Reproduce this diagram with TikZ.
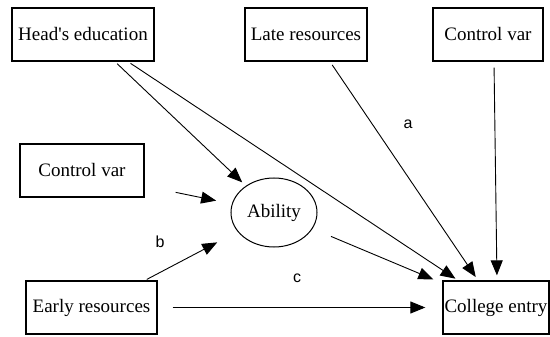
\documentclass[tikz,border=0pt]{standalone}
\usepackage{fontspec}
\setmainfont{Liberation Serif}
\newfontfamily\coeffont{Liberation Sans}
\usetikzlibrary{arrows.meta,shapes.geometric,calc}

\begin{document}
\begin{tikzpicture}[
  x=1pt, y=-1pt,
  var/.style={draw,line width=1.3pt,minimum height=53pt,inner sep=0pt,font=\fontsize{19}{22}\selectfont},
  latent/.style={draw,ellipse,line width=1pt,minimum width=86pt,minimum height=69pt,inner sep=0pt,font=\fontsize{19}{22}\selectfont},
  effect/.style={line width=0.9pt,-{Triangle[length=15pt,width=12pt]}},
  coef/.style={font=\coeffont\fontsize{16}{18}\selectfont,inner sep=0pt}
]
  \useasboundingbox (0,0) rectangle (550,337);

  \node[var,minimum width=142pt] (heads) at (83,34.5) {Head\textquotesingle s education};
  \node[var,minimum width=122pt] (late) at (306,34.5) {Late resources};
  \node[var,minimum width=110pt] (ctrltop) at (488,34.5) {Control var};
  \node[var,minimum width=124pt] (ctrlleft) at (82,170.5) {Control var};
  \node[var,minimum width=131pt] (early) at (91.5,307.5) {Early resources};
  \node[var,minimum width=106pt] (college) at (496,307.5) {College entry};
  \node[latent] (ability) at (274,212.5) {Ability};

  \draw[effect,shorten <=3pt,shorten >=5pt] ($(heads.south)+(32,0)$) -- (ability);
  \draw[effect,shorten <=3pt,shorten >=3pt] ($(heads.south)+(45,0)$) -- ($(college.north)+(-38,0)$);
  \draw[effect,shorten <=4pt,shorten >=4pt] ($(late.south)+(24,0)$) -- ($(college.north)+(-18,0)$);
  \draw[effect,shorten <=6pt,shorten >=5pt] ($(ctrltop.south)+(6,0)$) -- ($(college.north)+(1,0)$);
  \draw[effect,shorten <=31.6pt,shorten >=16pt] ($(ctrlleft.east)+(0,15.5)$) -- (ability);
  \draw[effect,shorten <=2pt,shorten >=23pt] ($(early.north)+(53.5,0)$) -- (ability);
  \draw[effect,shorten <=20pt] (ability) -- ($(college.north west)+(-9,-1)$);
  \draw[effect,shorten <=15pt,shorten >=17pt] (early) -- (college);

  \node[coef] (la) at (408,124) {a};
  \node[coef] (lb) at (160,242) {b};
  \node[coef] (lc) at (297,278) {c};
\end{tikzpicture}
\end{document}
